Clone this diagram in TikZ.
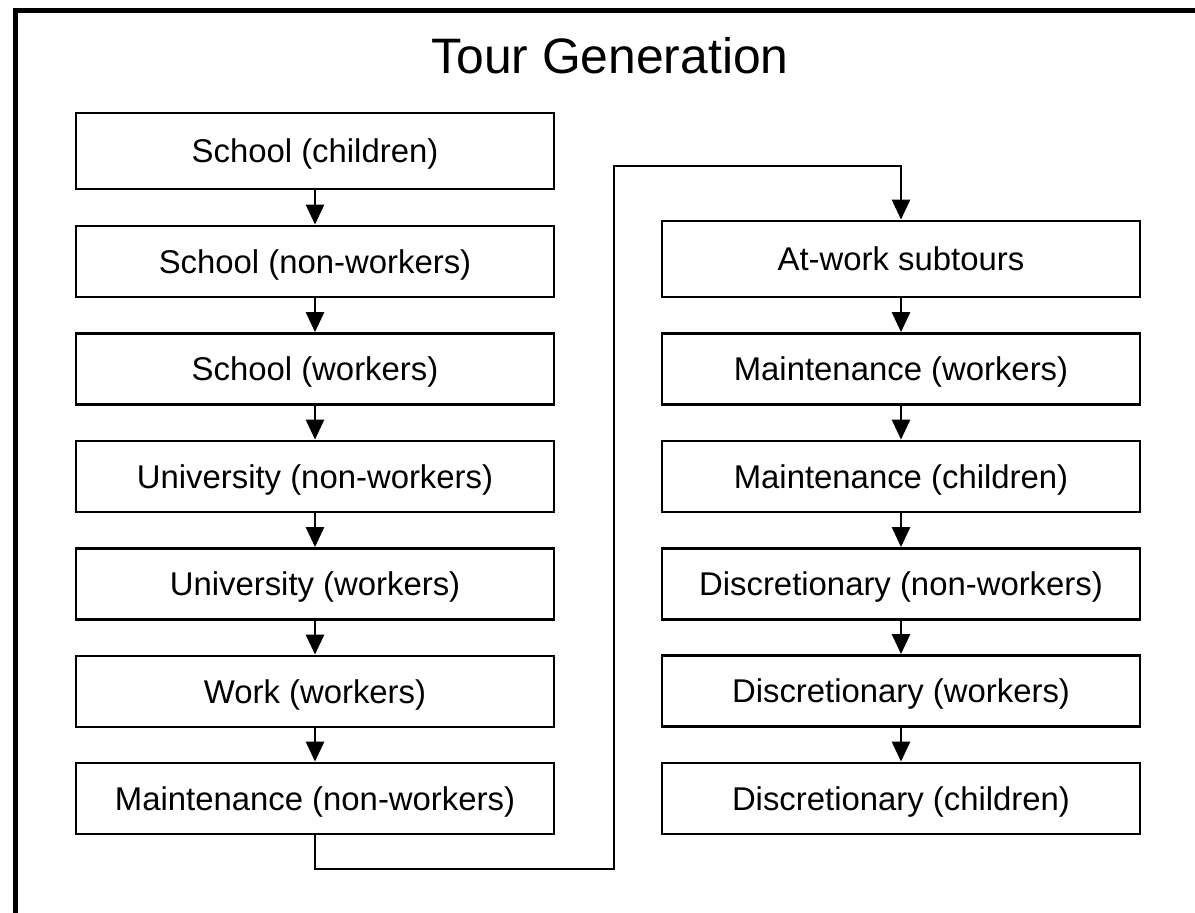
\documentclass[tikz,border=0pt]{standalone}
\usepackage{fontspec}
\setmainfont{Liberation Sans}
\usetikzlibrary{arrows.meta}
\begin{document}
\begin{tikzpicture}[x=1bp,y=-1bp,
  box/.style={draw, line width=2.8bp, minimum width=478bp, minimum height=71bp, inner sep=0pt, text height=23.6bp, text depth=0pt, font=\fontsize{33}{40}\selectfont},
  firstbox/.style={box, minimum height=76bp},
  arr/.style={draw, line width=2.8bp, -{Triangle[width=18bp,length=20bp]}},
  frame/.style={line width=4.5bp}]
\useasboundingbox (0,0) rectangle (1195,913);
\draw[frame] (15.5,913) -- (15.5,10.5) -- (1195,10.5);
\node[font=\fontsize{50}{60}\selectfont, text height=35.8bp, text depth=0pt, inner sep=0pt] (title) at (610,56) {Tour Generation};
% left column
\node[firstbox] (l1) at (315,151) {School (children)};
\node[box] (l2) at (315,261.5) {School (non-workers)};
\node[box] (l3) at (315,369) {School (workers)};
\node[box] (l4) at (315,476.5) {University (non-workers)};
\node[box] (l5) at (315,584) {University (workers)};
\node[box] (l6) at (315,691.5) {Work (workers)};
\node[box] (l7) at (315,798.5) {Maintenance (non-workers)};
% right column
\node[firstbox] (r1) at (901,259) {At-work subtours};
\node[box] (r2) at (901,369) {Maintenance (workers)};
\node[box] (r3) at (901,476.5) {Maintenance (children)};
\node[box] (r4) at (901,584) {Discretionary (non-workers)};
\node[box] (r5) at (901,691) {Discretionary (workers)};
\node[box] (r6) at (901,798.5) {Discretionary (children)};
\draw[arr] (l1) -- (l2);
\draw[arr] (l2) -- (l3);
\draw[arr] (l3) -- (l4);
\draw[arr] (l4) -- (l5);
\draw[arr] (l5) -- (l6);
\draw[arr] (l6) -- (l7);
\draw[arr] (r1) -- (r2);
\draw[arr] (r2) -- (r3);
\draw[arr] (r3) -- (r4);
\draw[arr] (r4) -- (r5);
\draw[arr] (r5) -- (r6);
\coordinate (c1) at (614,869);
\coordinate (c2) at (614,166);
\draw[arr] (l7.south) |- (c1) -- (c2) -| (r1.north);
\end{tikzpicture}
\end{document}
